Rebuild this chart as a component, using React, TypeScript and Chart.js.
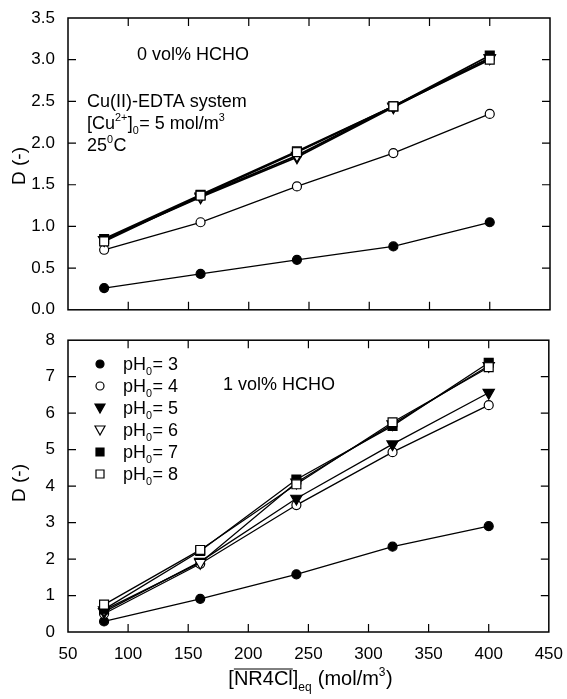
import React, { useEffect, useRef } from "react";
import { Chart, registerables } from "chart.js";

Chart.register(...registerables);

const FONT = '"Liberation Sans", Arial, Helvetica, sans-serif';

// ---- data ----
const xValues = [80, 160, 240, 320, 400];
const xTickValues = [50, 100, 150, 200, 250, 300, 350, 400, 450];
const topYTicks = [0, 0.5, 1.0, 1.5, 2.0, 2.5, 3.0, 3.5];
const bottomYTicks = [0, 1, 2, 3, 4, 5, 6, 7, 8];
const phLabels = ["3", "4", "5", "6", "7", "8"];

// 0 vol% HCHO
const top_pH3 = [0.26, 0.43, 0.6, 0.76, 1.05];
const top_pH4 = [0.72, 1.05, 1.48, 1.88, 2.35];
const top_pH5 = [0.84, 1.35, 1.83, 2.43, 3.02];
const top_pH6 = [0.84, 1.36, 1.85, 2.44, 3.02];
const top_pH7 = [0.85, 1.38, 1.9, 2.44, 3.05];
const top_pH8 = [0.82, 1.37, 1.89, 2.44, 3.0];

// 1 vol% HCHO
const bot_pH3 = [0.29, 0.91, 1.58, 2.34, 2.9];
const bot_pH4 = [0.5, 1.87, 3.48, 4.93, 6.22];
const bot_pH5 = [0.55, 1.93, 3.66, 5.15, 6.56];
const bot_pH6 = [0.6, 1.9, 4.1, 5.7, 7.3];
const bot_pH7 = [0.62, 2.22, 4.18, 5.65, 7.38];
const bot_pH8 = [0.75, 2.25, 4.05, 5.75, 7.26];

type Mk = { style: "circle" | "triangle" | "rect"; filled: boolean };
const markers: Mk[] = [
  { style: "circle", filled: true },
  { style: "circle", filled: false },
  { style: "triangle", filled: true },
  { style: "triangle", filled: false },
  { style: "rect", filled: true },
  { style: "rect", filled: false },
];

type Seg = { t: string; k?: "sup" | "sub"; over?: boolean };

function drawRich(ctx: CanvasRenderingContext2D, x: number, y: number, segs: Seg[], size: number, align: "left" | "center" = "left") {
  ctx.save();
  ctx.fillStyle = "#000";
  ctx.textBaseline = "alphabetic";
  ctx.textAlign = "left";
  const widths = segs.map((s) => {
    const fs = s.k ? size * 0.6 : size;
    ctx.font = `${fs}px ${FONT}`;
    return ctx.measureText(s.t).width;
  });
  const total = widths.reduce((a, b) => a + b, 0);
  let cx = align === "center" ? x - total / 2 : x;
  segs.forEach((s, i) => {
    const fs = s.k ? size * 0.6 : size;
    ctx.font = `${fs}px ${FONT}`;
    const dy = s.k === "sup" ? -size * 0.45 : s.k === "sub" ? size * 0.3 : 0;
    ctx.fillText(s.t, cx, y + dy);
    if (s.over) {
      ctx.strokeStyle = "#000";
      ctx.lineWidth = 1;
      ctx.beginPath();
      ctx.moveTo(cx, y - size * 0.8);
      ctx.lineTo(cx + widths[i], y - size * 0.8);
      ctx.stroke();
    }
    cx += widths[i] + (s.k ? 0.5 : 0);
  });
  ctx.restore();
}

function drawMarker(ctx: CanvasRenderingContext2D, m: Mk, x: number, y: number) {
  ctx.save();
  ctx.beginPath();
  if (m.style === "circle") {
    ctx.arc(x, y, 4, 0, Math.PI * 2);
  } else if (m.style === "rect") {
    ctx.rect(x - 4, y - 4, 8, 8);
  } else {
    ctx.moveTo(x - 5, y - 4);
    ctx.lineTo(x + 5, y - 4);
    ctx.lineTo(x, y + 5);
    ctx.closePath();
  }
  ctx.fillStyle = m.filled ? "#000" : "#fff";
  ctx.fill();
  ctx.strokeStyle = "#000";
  ctx.lineWidth = 1.2;
  ctx.stroke();
  ctx.restore();
}

function makeDatasets(series: number[][], widths: number[]) {
  return series.map((vals, i) => {
    const m = markers[i];
    const r = m.style === "circle" ? 4.5 : m.style === "rect" ? 6.3 : 6.5;
    return {
      label: "pH0= " + phLabels[i],
      data: xValues.map((x, j) => ({ x, y: vals[j] })),
      borderColor: "#000",
      borderWidth: widths[i],
      backgroundColor: m.filled ? "#000" : "#fff",
      pointBackgroundColor: m.filled ? "#000" : "#fff",
      pointBorderColor: "#000",
      pointBorderWidth: 1.2,
      pointStyle: m.style,
      pointRotation: m.style === "triangle" ? 180 : 0,
      pointRadius: r,
      tension: 0,
      fill: false,
      order: 5 - i,
    };
  });
}

function frameTicks(chart: any, yTicks: number[]) {
  const ctx: CanvasRenderingContext2D = chart.ctx;
  const a = chart.chartArea;
  const xs = chart.scales.x;
  const ys = chart.scales.y;
  ctx.save();
  ctx.strokeStyle = "#000";
  ctx.lineWidth = 1.5;
  ctx.strokeRect(a.left, a.top, a.right - a.left, a.bottom - a.top);
  ctx.lineWidth = 1.2;
  ctx.beginPath();
  const L = 8;
  xTickValues.slice(1, -1).forEach((v) => {
    const px = xs.getPixelForValue(v);
    ctx.moveTo(px, a.bottom);
    ctx.lineTo(px, a.bottom - L);
    ctx.moveTo(px, a.top);
    ctx.lineTo(px, a.top + L);
  });
  yTicks.slice(1, -1).forEach((v) => {
    const py = ys.getPixelForValue(v);
    ctx.moveTo(a.left, py);
    ctx.lineTo(a.left + L, py);
    ctx.moveTo(a.right, py);
    ctx.lineTo(a.right - L, py);
  });
  ctx.stroke();
  ctx.restore();
}

function yTitle(ctx: CanvasRenderingContext2D, x: number, y: number) {
  ctx.save();
  ctx.translate(x, y);
  ctx.rotate(-Math.PI / 2);
  ctx.font = `19px ${FONT}`;
  ctx.fillStyle = "#000";
  ctx.textAlign = "center";
  ctx.textBaseline = "middle";
  ctx.fillText("D (-)", 0, 0);
  ctx.restore();
}

export default function App() {
  const topRef = useRef<HTMLCanvasElement>(null);
  const botRef = useRef<HTMLCanvasElement>(null);

  useEffect(() => {
    const tickFont = { size: 17, family: FONT };
    const baseScales = (yMin: number, yMax: number, yTicks: number[], showX: boolean, xH: number, fmt: (v: number) => string) => ({
      x: {
        type: "linear" as const,
        min: 50,
        max: 450,
        afterBuildTicks: (s: any) => {
          s.ticks = xTickValues.map((v) => ({ value: v }));
        },
        ticks: { display: showX, padding: 4, font: tickFont, color: "#000", maxRotation: 0, autoSkip: false, callback: (v: any) => String(v) },
        grid: { display: false },
        border: { display: false },
        afterFit: (s: any) => {
          s.height = xH;
        },
      },
      y: {
        type: "linear" as const,
        min: yMin,
        max: yMax,
        afterBuildTicks: (s: any) => {
          s.ticks = yTicks.map((v) => ({ value: v }));
        },
        ticks: { padding: 5, font: tickFont, color: "#000", autoSkip: false, callback: (v: any) => fmt(Number(v)) },
        grid: { display: false },
        border: { display: false },
        afterFit: (s: any) => {
          s.width = 68;
        },
      },
    });

    const topChart = new Chart(topRef.current!, {
      type: "line",
      data: { datasets: makeDatasets([top_pH3, top_pH4, top_pH5, top_pH6, top_pH7, top_pH8], [1.3, 1.3, 1.8, 1.8, 1.8, 1.8]) as any },
      options: {
        responsive: false,
        animation: false,
        layout: { padding: { top: 18, right: 17, left: 0, bottom: 0 } },
        plugins: { legend: { display: false }, tooltip: { enabled: false } },
        scales: baseScales(0, 3.5, topYTicks, false, 10, (v) => v.toFixed(1)) as any,
      },
      plugins: [
        {
          id: "decoTop",
          afterDraw(chart: any) {
            const ctx = chart.ctx as CanvasRenderingContext2D;
            frameTicks(chart, topYTicks);
            yTitle(ctx, 20, 166);
            drawRich(ctx, 137, 60, [{ t: "0 vol% HCHO" }], 18);
            drawRich(ctx, 87, 107, [{ t: "Cu(II)-EDTA system" }], 18);
            drawRich(ctx, 87, 129, [{ t: "[Cu" }, { t: "2+", k: "sup" }, { t: "]" }, { t: "0", k: "sub" }, { t: "= 5 mol/m" }, { t: "3", k: "sup" }], 18);
            drawRich(ctx, 87, 151, [{ t: "25" }, { t: "0", k: "sup" }, { t: "C" }], 18);
          },
        },
      ],
    });

    const botChart = new Chart(botRef.current!, {
      type: "line",
      data: { datasets: makeDatasets([bot_pH3, bot_pH4, bot_pH5, bot_pH6, bot_pH7, bot_pH8], [1.3, 1.3, 1.3, 1.3, 1.3, 1.3]) as any },
      options: {
        responsive: false,
        animation: false,
        layout: { padding: { top: 10, right: 17, left: 0, bottom: 0 } },
        plugins: { legend: { display: false }, tooltip: { enabled: false } },
        scales: baseScales(0, 8, bottomYTicks, true, 67, (v) => String(v)) as any,
      },
      plugins: [
        {
          id: "decoBot",
          afterDraw(chart: any) {
            const ctx = chart.ctx as CanvasRenderingContext2D;
            frameTicks(chart, bottomYTicks);
            yTitle(ctx, 20, 158);
            drawRich(ctx, 223, 65, [{ t: "1 vol% HCHO" }], 18);
            phLabels.forEach((p, i) => {
              const y = 39 + i * 22;
              drawMarker(ctx, markers[i], 100, y);
              drawRich(ctx, 123, y + 6, [{ t: "pH" }, { t: "0", k: "sub" }, { t: "= " + p }], 18);
            });
            drawRich(
              ctx,
              310,
              360,
              [{ t: "[" }, { t: "NR4Cl", over: true }, { t: "]" }, { t: "eq", k: "sub" }, { t: " (mol/m" }, { t: "3", k: "sup" }, { t: ")" }],
              20,
              "center"
            );
          },
        },
      ],
    });

    return () => {
      topChart.destroy();
      botChart.destroy();
    };
  }, []);

  return (
    <div style={{ position: "fixed", left: 0, top: 0, width: 567, height: 699, background: "#fff" }}>
      <canvas ref={topRef} width={567} height={325} style={{ position: "absolute", left: 0, top: 0, width: 567, height: 325 }} />
      <canvas ref={botRef} width={567} height={374} style={{ position: "absolute", left: 0, top: 325, width: 567, height: 374 }} />
    </div>
  );
}
